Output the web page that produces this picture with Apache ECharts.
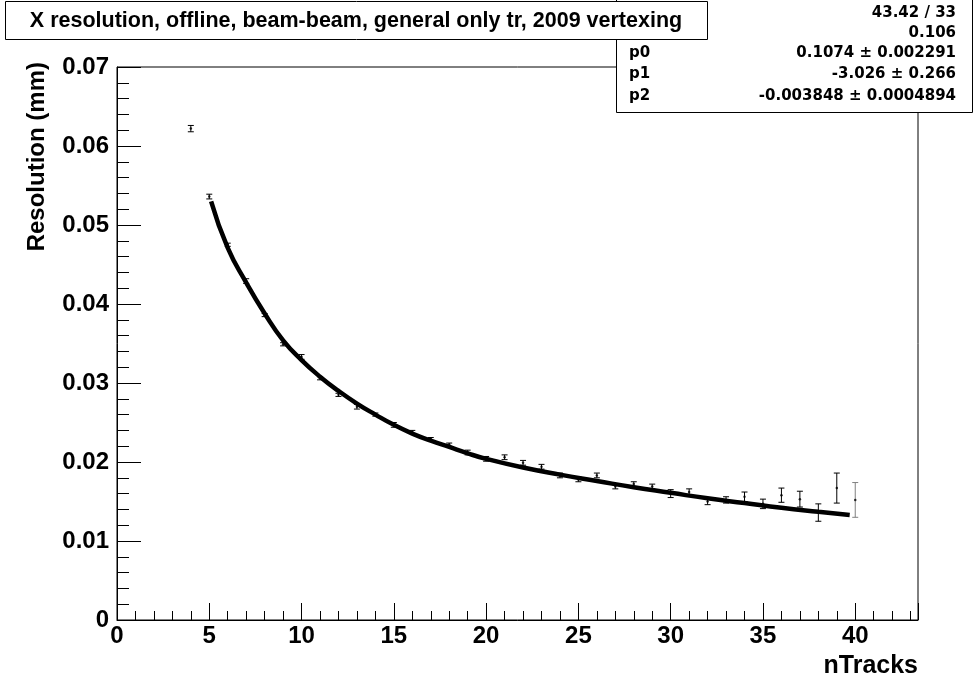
<!DOCTYPE html>
<html>
<head>
<meta charset="utf-8">
<script src="https://cdn.jsdelivr.net/npm/echarts@6/dist/echarts.min.js"></script>
<style>
  html, body { margin: 0; padding: 0; background: #fff; }
  #chart { width: 974px; height: 683px; }
</style>
</head>
<body>
<div id="chart"></div>
<script>
// X resolution vs number of tracks, with fitted curve
const nTracks = [4, 5, 6, 7, 8, 9, 10, 11, 12, 13, 14, 15, 16, 17, 18, 19, 20, 21, 22,
  23, 24, 25, 26, 27, 28, 29, 30, 31, 32, 33, 34, 35, 36, 37, 38, 39, 40];
const resolution = [0.0622, 0.0536, 0.0475, 0.0429, 0.0386, 0.0349, 0.0333, 0.0306, 0.0285,
  0.0270, 0.0260, 0.0247, 0.0238, 0.0229, 0.0222, 0.0212, 0.0204, 0.0206, 0.0199,
  0.0194, 0.0183, 0.0178, 0.0183, 0.0169, 0.0172, 0.0169, 0.0160, 0.0162, 0.0150,
  0.0152, 0.0156, 0.0147, 0.0158, 0.0153, 0.0136, 0.0167, 0.0152];
const resError = [0.0004, 0.0003, 0.0002, 0.0003, 0.0002, 0.0002, 0.0003, 0.0002, 0.0002,
  0.0003, 0.0002, 0.0003, 0.0002, 0.0002, 0.0002, 0.0003, 0.0003, 0.0003, 0.0003,
  0.0003, 0.0003, 0.0003, 0.0003, 0.0003, 0.0003, 0.0003, 0.0005, 0.0004, 0.0004,
  0.0004, 0.0006, 0.0006, 0.0009, 0.0010, 0.0011, 0.0019, 0.0022];

// fitted curve, sampled from the drawn line
const fitX = [5.1, 6, 7, 8, 9, 10, 11, 12, 13, 14, 15, 16, 17, 18, 19, 20,
  22, 24, 26, 28, 30, 32, 34, 36, 38, 39.7];
const fitY = [0.0530, 0.0471, 0.0427, 0.0388, 0.0354, 0.0329, 0.0308, 0.0290, 0.0274,
  0.0260, 0.0247, 0.0236, 0.0227, 0.0219, 0.0211, 0.0204, 0.0193, 0.0184, 0.0176,
  0.0168, 0.0161, 0.0154, 0.0148, 0.0142, 0.0137, 0.0133];

const statNames = ["\u03c7\u00b2 / ndf", "Prob", "p0", "p1", "p2"];
const statValues = ["43.42 / 33", "0.106", "0.1074 \u00b1 0.002291",
  "-3.026 \u00b1 0.266", "-0.003848 \u00b1 0.0004894"];
const statRowsY = [13, 33, 53, 74, 96];

const titleText = "X resolution, offline, beam-beam, general only tr, 2009 vertexing";
const xTitle = "nTracks";
const yTitle = "Resolution (mm)";

const FONT = "'Liberation Sans', Arial, Helvetica, sans-serif";
const STAT_FONT = "'DejaVu Sans', Verdana, sans-serif";

const points = nTracks.map((x, i) => [x, resolution[i]]);
const bars = nTracks.map((x, i) => [x, resolution[i] - resError[i], resolution[i] + resError[i]]);
const fitLine = fitX.map((x, i) => [x, fitY[i]]);

function renderErrorBar(params, api) {
  const x = api.value(0);
  const lo = api.coord([x, api.value(1)]);
  const hi = api.coord([x, api.value(2)]);
  const cap = 3;
  const color = params.dataIndex === bars.length - 1 ? "#808080" : "#000";
  const style = { stroke: color, lineWidth: 1 };
  return {
    type: "group",
    children: [
      { type: "line", shape: { x1: lo[0], y1: lo[1], x2: hi[0], y2: hi[1] }, style },
      { type: "line", shape: { x1: hi[0] - cap, y1: hi[1], x2: hi[0] + cap, y2: hi[1] }, style },
      { type: "line", shape: { x1: lo[0] - cap, y1: lo[1], x2: lo[0] + cap, y2: lo[1] }, style },
    ],
  };
}

const chart = echarts.init(document.getElementById("chart"), null, { renderer: "canvas" });

const statTexts = [];
statNames.forEach((name, i) => {
  statTexts.push({
    type: "text", x: 629, y: statRowsY[i], z: 11,
    style: { text: name, font: "bold 15px " + STAT_FONT, fill: "#000", align: "left", verticalAlign: "middle" },
  });
  statTexts.push({
    type: "text", x: 956, y: statRowsY[i], z: 11,
    style: { text: statValues[i], font: "bold 15px " + STAT_FONT, fill: "#000", align: "right", verticalAlign: "middle" },
  });
});

chart.setOption({
  animation: false,
  backgroundColor: "#fff",
  grid: {
    left: 117, top: 67, right: 56, bottom: 63,
    show: true, borderColor: "#000", borderWidth: 1, backgroundColor: "#fff",
    containLabel: false, outerBoundsMode: "none",
  },
  xAxis: [
    {
      type: "value", min: 0, max: 43.4, interval: 5, position: "bottom",
      axisLine: { lineStyle: { color: "#000", width: 1 } },
      axisTick: { inside: true, length: 17, lineStyle: { color: "#000", width: 1 } },
      axisLabel: {
        color: "#000", fontFamily: FONT, fontWeight: "bold", fontSize: 24, margin: 4,
        formatter: (v) => (v % 5 === 0 ? String(v) : ""),
      },
      splitLine: { show: false },
    },
    {
      type: "value", min: 0, max: 43.4, interval: 1, position: "bottom",
      axisLine: { show: false },
      axisTick: { inside: true, length: 9, lineStyle: { color: "#000", width: 1 } },
      axisLabel: { show: false },
      splitLine: { show: false },
    },
  ],
  yAxis: [
    {
      type: "value", min: 0, max: 0.07, interval: 0.01, position: "left",
      axisLine: { lineStyle: { color: "#000", width: 1 } },
      axisTick: { inside: true, length: 24, lineStyle: { color: "#000", width: 1 } },
      axisLabel: {
        color: "#000", fontFamily: FONT, fontWeight: "bold", fontSize: 24, margin: 8,
        formatter: (v) => (v === 0 ? "0" : v.toFixed(2)),
      },
      splitLine: { show: false },
    },
    {
      type: "value", min: 0, max: 0.07, interval: 0.002, position: "left",
      axisLine: { show: false },
      axisTick: { inside: true, length: 12, lineStyle: { color: "#000", width: 1 } },
      axisLabel: { show: false },
      splitLine: { show: false },
    },
  ],
  series: [
    {
      name: "fit", type: "line", data: fitLine, smooth: 0.5, showSymbol: false, z: 2,
      lineStyle: { color: "#000", width: 4.5 },
    },
    {
      name: "error", type: "custom", data: bars, renderItem: renderErrorBar, z: 3,
      encode: { x: 0, y: [1, 2] },
    },
    {
      name: "resolution", type: "scatter", data: points, symbol: "circle", symbolSize: 2.5, z: 4,
      itemStyle: { color: "#000" },
    },
  ],
  graphic: [
    {
      type: "rect", z: 10,
      shape: { x: 616.5, y: -0.5, width: 356, height: 113 },
      style: { fill: "#fff", stroke: "#000", lineWidth: 1 },
    },
    ...statTexts,
    {
      type: "rect", z: 20,
      shape: { x: 5.5, y: 1.5, width: 702, height: 38 },
      style: { fill: "#fff", stroke: "#000", lineWidth: 1 },
    },
    {
      type: "text", x: 356, y: 21, z: 21,
      style: { text: titleText, font: "bold 21.5px " + FONT, fill: "#000", align: "center", verticalAlign: "middle" },
    },
    {
      type: "text", x: 37, y: 62, rotation: Math.PI / 2,
      style: { text: yTitle, font: "bold 24px " + FONT, fill: "#000", align: "right", verticalAlign: "middle" },
    },
    {
      type: "text", x: 918, y: 666,
      style: { text: xTitle, font: "bold 25px " + FONT, fill: "#000", align: "right", verticalAlign: "middle" },
    },
  ],
});
</script>
</body>
</html>
